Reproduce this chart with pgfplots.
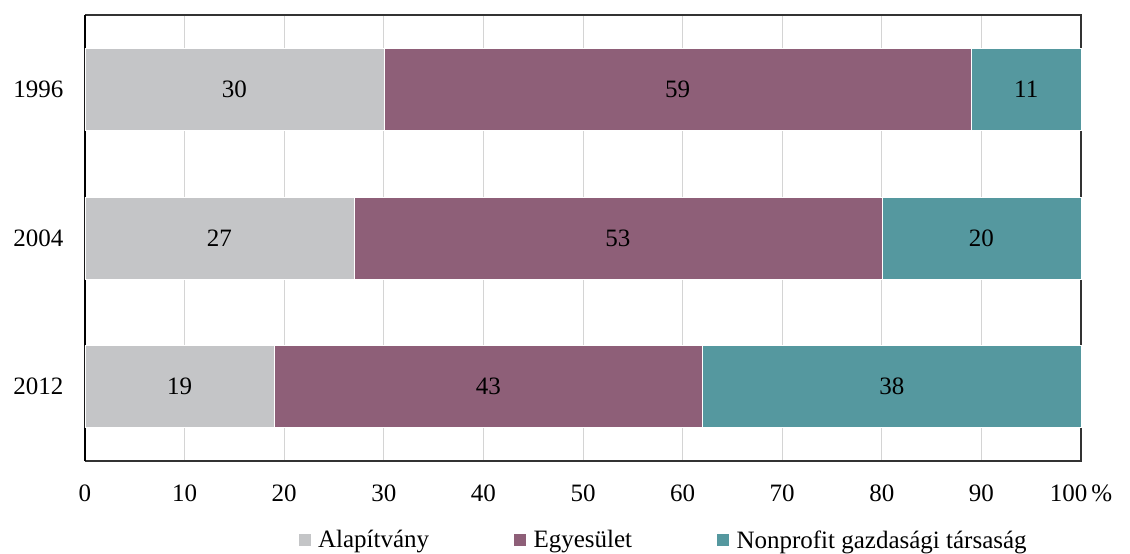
\documentclass[border=0pt]{standalone}
\usepackage{fontspec}
\setmainfont{Liberation Serif}
\usepackage{pgfplots}
\pgfplotsset{compat=1.18}
\definecolor{cAlap}{HTML}{C4C5C7}
\definecolor{cEgy}{HTML}{8E5F78}
\definecolor{cNon}{HTML}{55989F}
\definecolor{gridc}{HTML}{D4D4D4}
\newcommand{\chartfont}{\fontsize{25}{29}\selectfont}
\begin{document}
\begin{tikzpicture}[x=1pt,y=1pt]
\useasboundingbox (-85,-93) rectangle (1045,461);
\begin{axis}[
  scale only axis,
  width=996pt, height=446pt,
  xbar stacked,
  bar width=82pt,
  xmin=0, xmax=100,
  ymin=-0.5, ymax=2.5,
  y dir=reverse,
  ytick={0,1,2},
  yticklabels={1996,2004,2012},
  xtick={0,10,...,100},
  xticklabels={0,10,20,30,40,50,60,70,80,90,100\,\%},
  xmajorgrids,
  grid style={gridc, line width=1pt},
  major tick length=0pt,
  axis line style={draw=none},
  font=\chartfont,
  /pgf/number format/assume math mode=true,
  xticklabel style={font=\chartfont, yshift=-20pt},
  yticklabel style={font=\chartfont, xshift=-18pt},
  nodes near coords,
  nodes near coords style={font=\chartfont, color=black},
  every node near coord/.append style={anchor=center},
  point meta=explicit,
  legend style={
    at={(0.583,-0.177)}, anchor=center,
    draw=none, fill=none,
    font=\chartfont,
    legend columns=3,
    /tikz/every even column/.append style={column sep=77pt},
    nodes={inner xsep=7pt},
    inner sep=0pt,
  },
  legend image code/.code={\fill[#1] (0pt,-6.5pt) rectangle (13pt,6.5pt);},
  legend cell align=left,
  clip=false,
]
\addplot[fill=cAlap, draw=white, line width=0.4pt]
  coordinates {(30,0) [30] (27,1) [27] (19,2) [19]};
\addplot[fill=cEgy, draw=white, line width=0.4pt]
  coordinates {(59,0) [59] (53,1) [53] (43,2) [43]};
\addplot[fill=cNon, draw=white, line width=0.4pt]
  coordinates {(11,0) [11] (20,1) [20] (38,2) [38]};
\legend{Alapítvány, Egyesület, Nonprofit gazdasági társaság}
\draw[black, line width=1.6pt] (rel axis cs:0,0) -- (rel axis cs:0,1);
\draw[black!80, line width=1.4pt] (rel axis cs:0,0) -- (rel axis cs:1,0) -- (rel axis cs:1,1) -- (rel axis cs:0,1);
\end{axis}
\end{tikzpicture}
\end{document}
